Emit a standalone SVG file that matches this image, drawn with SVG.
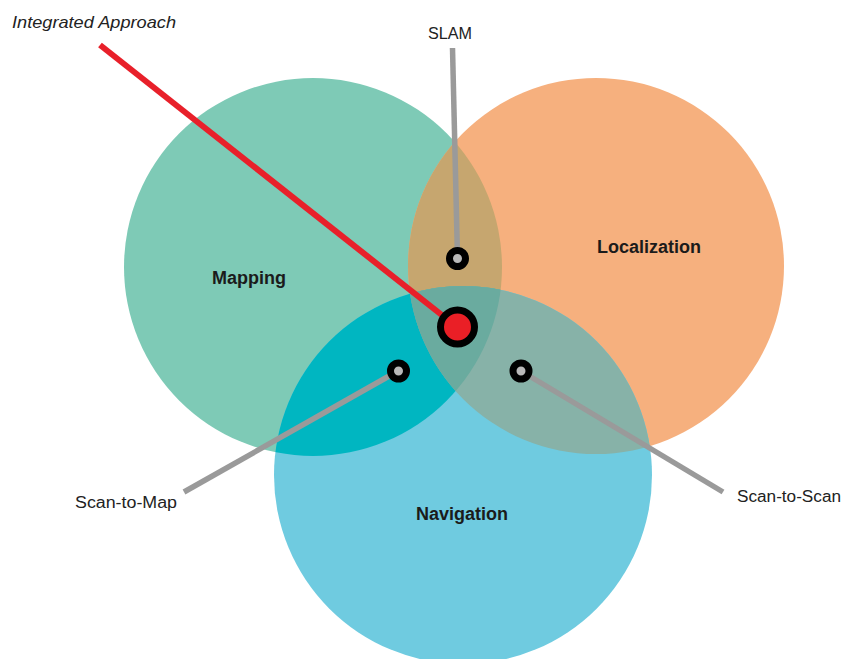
<svg xmlns="http://www.w3.org/2000/svg" width="845" height="659" viewBox="0 0 845 659">
  <defs>
    <clipPath id="clipMapping"><circle cx="313" cy="267" r="189"/></clipPath>
    <clipPath id="clipLocalization"><circle cx="596" cy="266" r="188"/></clipPath>
    <style>
      .label { font-family: "Liberation Sans", Arial, sans-serif; fill: #222; }
      .set { font-weight: bold; font-size: 18px; fill: #1b1b1b; }
      .term { font-size: 16px; }
      .lead { stroke: #9a9a9a; stroke-width: 5.5; stroke-linecap: butt; fill: none; }
      .dot { fill: #b9b9b9; stroke: #000; stroke-width: 7; }
    </style>
  </defs>
  <rect width="845" height="659" fill="#ffffff"/>

  <!-- Venn sets -->
  <g id="mapping">
    <circle cx="313" cy="267" r="189" fill="#7ecab6"/>
    <text class="label set" x="249" y="284" text-anchor="middle">Mapping</text>
  </g>
  <g id="localization">
    <circle cx="596" cy="266" r="188" fill="#f6b07e"/>
    <text class="label set" x="649" y="253" text-anchor="middle">Localization</text>
  </g>
  <g id="navigation">
    <circle cx="463" cy="475" r="189" fill="#6fcbe0"/>
    <text class="label set" x="462" y="520" text-anchor="middle">Navigation</text>
  </g>

  <!-- pairwise and triple overlaps -->
  <g id="overlaps">
    <circle cx="596" cy="266" r="188" fill="#c6a66f" clip-path="url(#clipMapping)"/>
    <circle cx="463" cy="475" r="189" fill="#00b6c1" clip-path="url(#clipMapping)"/>
    <circle cx="463" cy="475" r="189" fill="#87b2a8" clip-path="url(#clipLocalization)"/>
    <g clip-path="url(#clipMapping)">
      <circle cx="463" cy="475" r="189" fill="#6aab9f" clip-path="url(#clipLocalization)"/>
    </g>
  </g>

  <!-- leader lines -->
  <g id="connectors">
    <line x1="100" y1="45" x2="457" y2="327" stroke="#e8202a" stroke-width="6"/>
    <line class="lead" x1="452.5" y1="48" x2="457.5" y2="258"/>
    <line class="lead" x1="398" y1="371" x2="184" y2="492"/>
    <line class="lead" x1="521" y1="371" x2="723" y2="492"/>
  </g>

  <!-- labelled points -->
  <g id="integrated-approach">
    <circle cx="457.5" cy="327" r="17" fill="#ea1f26" stroke="#000" stroke-width="7"/>
    <text class="label" x="12" y="28" font-size="17" font-style="italic" fill="#2a2a2a" textLength="164" lengthAdjust="spacingAndGlyphs">Integrated Approach</text>
  </g>
  <g id="slam">
    <circle class="dot" cx="457.5" cy="258.5" r="8"/>
    <text class="label term" x="450" y="38.5" text-anchor="middle" textLength="44" lengthAdjust="spacingAndGlyphs">SLAM</text>
  </g>
  <g id="scan-to-map">
    <circle class="dot" cx="398.5" cy="371" r="8"/>
    <text class="label term" x="75" y="508" textLength="102" lengthAdjust="spacingAndGlyphs">Scan-to-Map</text>
  </g>
  <g id="scan-to-scan">
    <circle class="dot" cx="521" cy="371" r="8"/>
    <text class="label term" x="737" y="502" textLength="104" lengthAdjust="spacingAndGlyphs">Scan-to-Scan</text>
  </g>
</svg>
